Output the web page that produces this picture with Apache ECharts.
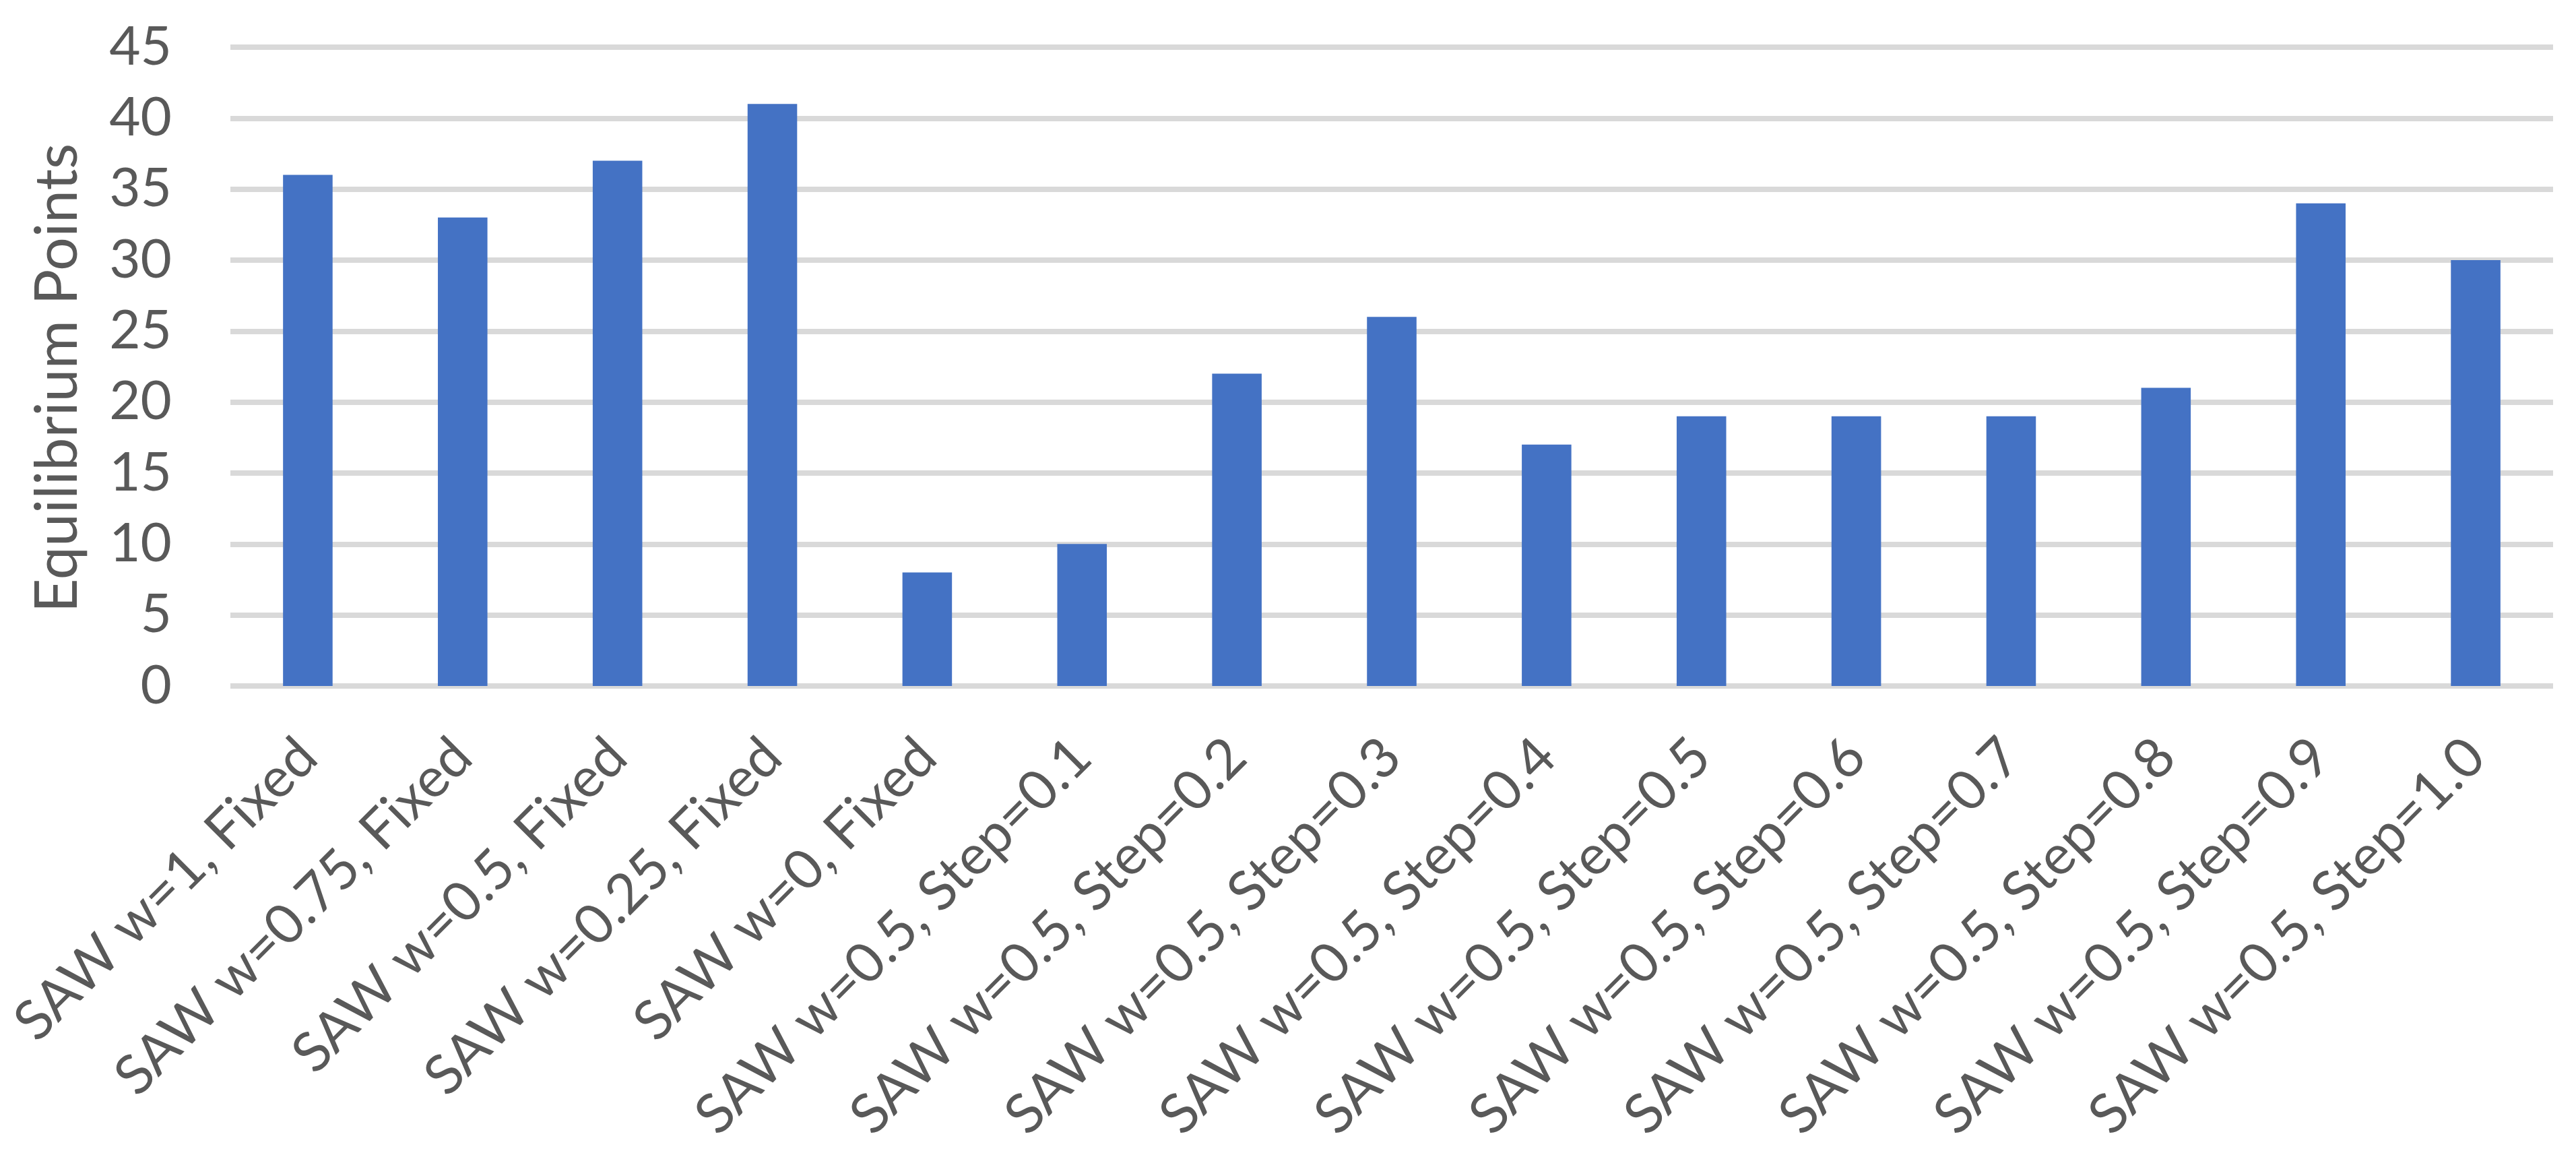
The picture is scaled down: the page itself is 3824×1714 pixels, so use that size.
<!DOCTYPE html>
<html>
<head>
<meta charset="utf-8">
<script src="https://cdn.jsdelivr.net/npm/echarts@6/dist/echarts.min.js"></script>
<style>
  html, body { margin: 0; padding: 0; background: #fff; }
  #chart { width: 3824px; height: 1714px; }
</style>
</head>
<body>
<div id="chart"></div>
<script>
const categories = [
  'SAW w=1, Fixed', 'SAW w=0.75, Fixed', 'SAW w=0.5, Fixed', 'SAW w=0.25, Fixed', 'SAW w=0, Fixed',
  'SAW w=0.5, Step=0.1', 'SAW w=0.5, Step=0.2', 'SAW w=0.5, Step=0.3', 'SAW w=0.5, Step=0.4',
  'SAW w=0.5, Step=0.5', 'SAW w=0.5, Step=0.6', 'SAW w=0.5, Step=0.7', 'SAW w=0.5, Step=0.8',
  'SAW w=0.5, Step=0.9', 'SAW w=0.5, Step=1.0'
]
const equilibriumPoints = [36, 33, 37, 41, 8, 10, 22, 26, 17, 19, 19, 19, 21, 34, 30]
const yName = 'Equilibrium Points'

const font = 'Lato'
const textColor = '#595959'

const chart = echarts.init(document.getElementById('chart'))
chart.setOption({
  animation: false,
  grid: {
    left: 342,
    right: 34,
    top: 70,
    bottom: 696
  },
  xAxis: {
    type: 'category',
    data: categories,
    axisTick: { show: false },
    axisLine: { show: false },
    axisLabel: {
      interval: 0,
      rotate: 45,
      margin: 92,
      color: textColor,
      fontFamily: font,
      fontSize: 82
    }
  },
  yAxis: {
    type: 'value',
    min: 0,
    max: 45,
    interval: 5,
    name: yName,
    nameLocation: 'middle',
    nameGap: 212,
    nameTextStyle: {
      color: textColor,
      fontFamily: font,
      fontSize: 88,
      padding: [0, 34, 0, 0] // nudges the title down a little
    },
    axisLine: { show: false },
    axisTick: { show: false },
    axisLabel: {
      margin: 87,
      color: textColor,
      fontFamily: font,
      fontSize: 80
    },
    splitLine: {
      lineStyle: {
        color: '#d9d9d9',
        width: 8
      }
    }
  },
  series: [
    {
      type: 'bar',
      data: equilibriumPoints,
      barWidth: '32%',
      itemStyle: {
        color: '#4472c4'
      }
    }
  ]
})
</script>
</body>
</html>
